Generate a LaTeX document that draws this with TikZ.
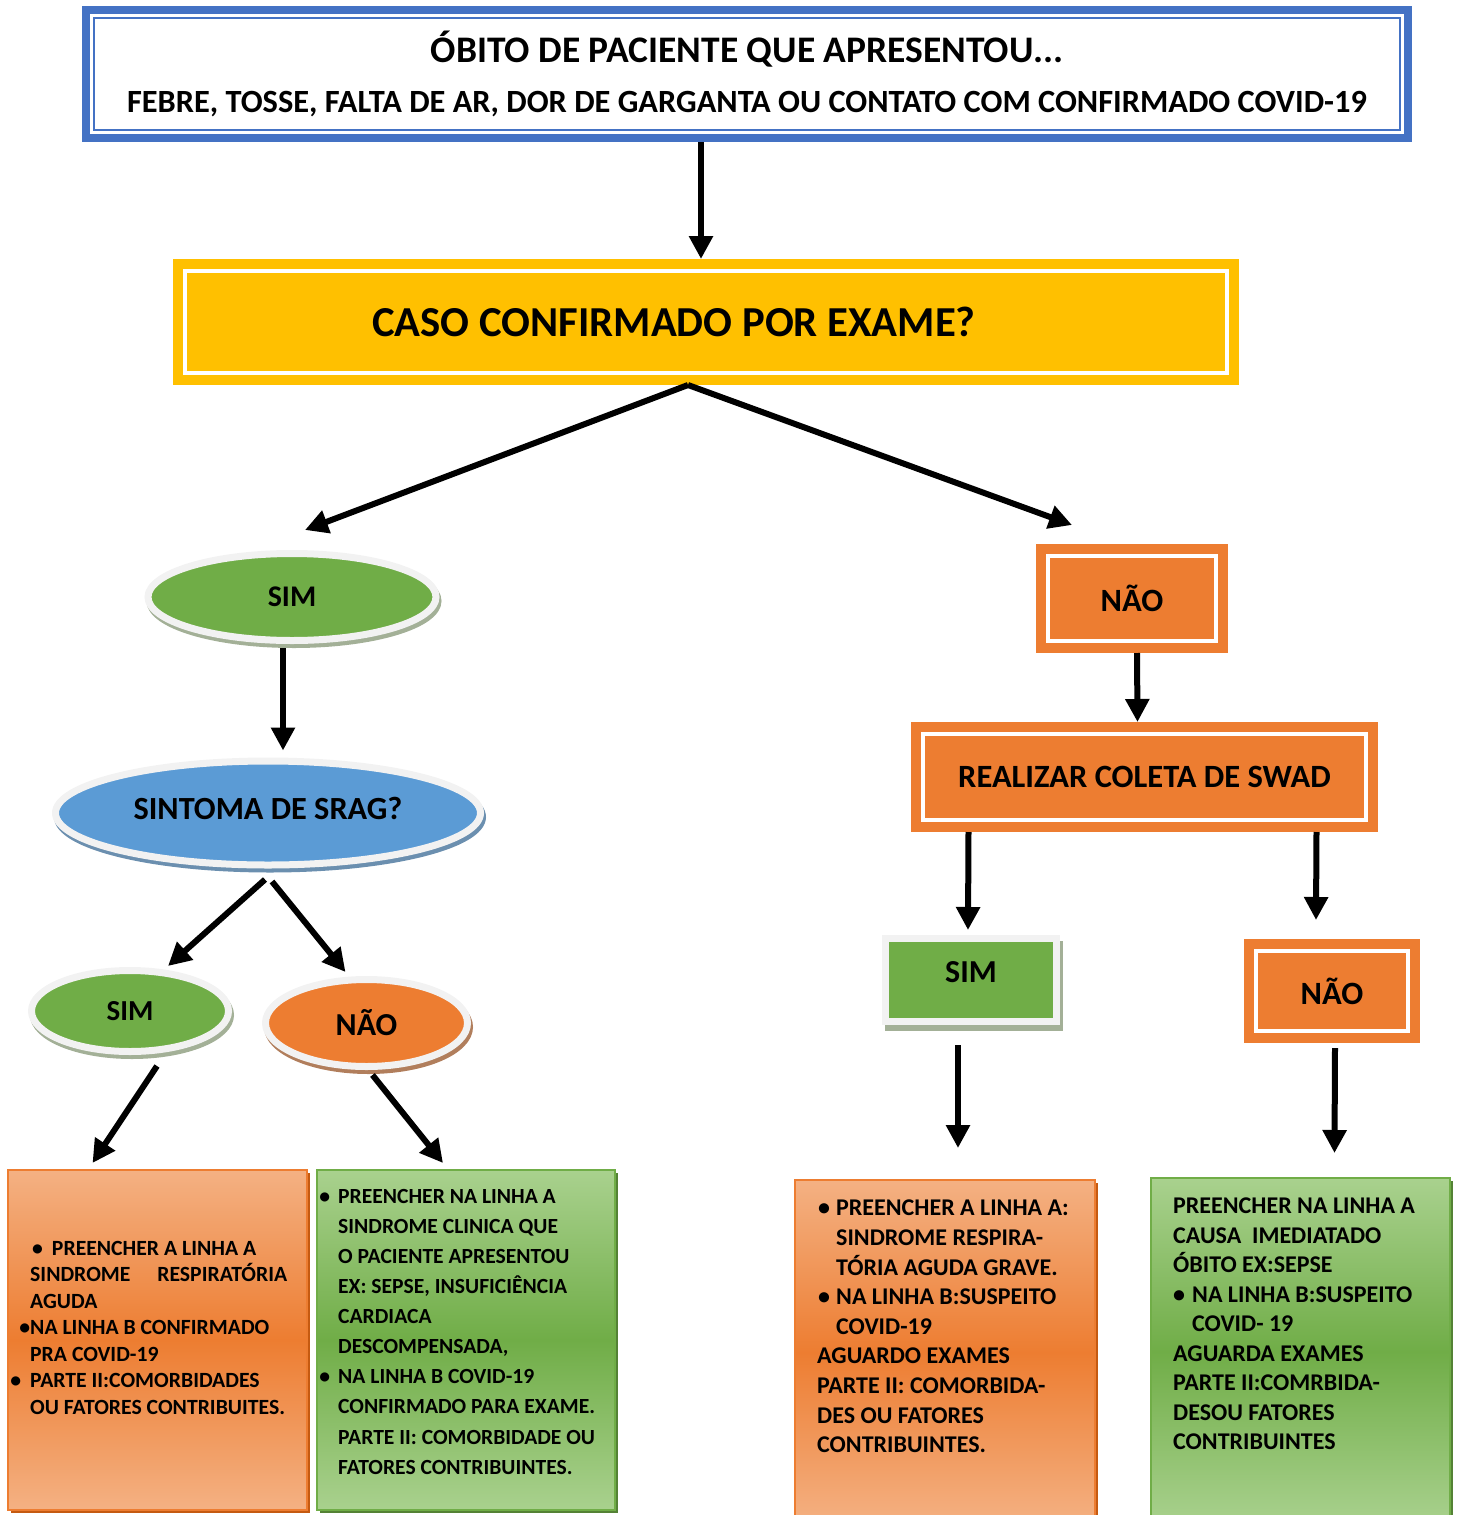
\documentclass[tikz,border=0pt]{standalone}
\usepackage{fontspec}
\setmainfont{Carlito}
\usetikzlibrary{arrows.meta,shapes.geometric,shadows}

\definecolor{azulT}{HTML}{4472C4}
\definecolor{amarelo}{HTML}{FFC000}
\definecolor{verde}{HTML}{70AD47}
\definecolor{verdeC}{HTML}{A9D18E}
\definecolor{verdeE}{HTML}{548235}
\definecolor{laranja}{HTML}{ED7D31}
\definecolor{laranjaC}{HTML}{F4B183}
\definecolor{laranjaE}{HTML}{C55A11}
\definecolor{azulE}{HTML}{5B9BD5}
\definecolor{borda}{HTML}{F2F2F2}
\definecolor{sombra}{HTML}{A3B097}

\tikzset{
  seta/.style={line width=6pt,-{Triangle[width=23pt,length=23pt]}},
  caixa/.style={rectangle,fill=#1,draw=white,line width=4pt,inner sep=0pt,outer sep=12pt,
    preaction={draw=#1,line width=24pt},font=\bfseries\fontsize{32.5}{38}\selectfont},
  oval/.style 2 args={ellipse,fill=#1,draw=borda,line width=7pt,inner sep=0pt,
    preaction={draw=#2,fill=#2,line width=7pt,transform canvas={xshift=2pt,yshift=-4pt}},
    font=\bfseries\fontsize{30}{36}\selectfont},
  nota/.style n args={3}{rectangle,draw=#1,line width=2pt,top color=#2,bottom color=#2,middle color=#1,
    drop shadow={shadow xshift=3pt,shadow yshift=-3pt,fill=#3,opacity=1}},
  texto/.style={anchor=north west,inner sep=0pt,align=left}
}

\begin{document}
\begin{tikzpicture}[x=1pt,y=-1pt]
    \useasboundingbox (0,0) rectangle (1459,1515);
    %% titulo
    \node[rectangle,fill=white,draw=azulT,line width=2pt,inner sep=0pt,outer sep=12pt,
      minimum width=1306pt,minimum height=112pt,
      preaction={draw=azulT,line width=24pt},preaction={draw=white,line width=8pt},
      align=center,font=\bfseries\fontsize{32.4}{50}\selectfont] (titulo) at (747,74)
      {{\fontsize{37.5}{50}\selectfont ÓBITO DE PACIENTE QUE APRESENTOU...}\\
       FEBRE, TOSSE, FALTA DE AR, DOR DE GARGANTA OU CONTATO COM CONFIRMADO COVID-19};
    \node[caixa=amarelo,minimum width=1042pt,minimum height=102pt,
      font=\bfseries\fontsize{42.7}{50}\selectfont] (caso) at (706,322)
      {CASO CONFIRMADO POR EXAME?\hspace*{64pt}};
    %% lado esquerdo
    \node[oval={verde}{sombra},minimum width=288pt,minimum height=87pt] (sim1) at (292,597) {SIM};
    \node[oval={azulE}{azulE!55!gray},minimum width=425pt,minimum height=104pt,text depth=10pt,
      font=\bfseries\fontsize{32.3}{38}\selectfont] (srag) at (268,813) {SINTOMA DE SRAG?};
    \node[oval={verde}{sombra},minimum width=197pt,minimum height=81pt,
      font=\bfseries\fontsize{29}{34}\selectfont] (sim2) at (130,1011) {SIM};
    \node[oval={laranja}{laranja!45!gray},minimum width=202pt,minimum height=87pt,
      font=\bfseries\fontsize{32}{38}\selectfont] (nao0) at (366.5,1023) {NÃO};
    %% lado direito
    \node[caixa=laranja,minimum width=168pt,minimum height=85pt] (nao1) at (1132,598.5) {NÃO};
    \node[caixa=laranja,minimum width=443pt,minimum height=86pt] (coleta) at (1144.5,777) {REALIZAR COLETA DE SWAD};
    \node[rectangle,fill=verde,draw=borda,line width=7pt,inner sep=0pt,text depth=16pt,
      minimum width=171pt,minimum height=83pt,font=\bfseries\fontsize{32}{38}\selectfont,
      preaction={fill=sombra,draw=sombra,line width=7pt,transform canvas={xshift=3pt,yshift=-6pt}}]
      (sim3) at (971,980) {SIM};
    \node[caixa=laranja,minimum width=152pt,minimum height=80pt] (nao2) at (1332,991) {NÃO};
    %% notas
    \node[nota={laranja}{laranjaC}{laranjaE},minimum width=299pt,minimum height=340pt] (nota1) at (157.5,1340) {};
    \node[nota={verde}{verdeC}{verdeE},minimum width=298pt,minimum height=340pt] (nota2) at (466,1340) {};
    \node[nota={laranja}{laranjaC}{laranjaE},minimum width=300pt,minimum height=345pt] (nota3) at (945,1352.5) {};
    \node[nota={verde}{verdeC}{verdeE},minimum width=299pt,minimum height=347pt] (nota4) at (1300.5,1351.5) {};
    \node[texto,font=\bfseries\fontsize{21.7}{26.5}\selectfont] (txt1) at (30,1235)
      {\rule{0pt}{20pt}\hspace*{2pt}•\hspace*{9pt}PREENCHER A LINHA A\\
       \makebox[257pt]{SINDROME\hfill RESPIRATÓRIA}\\
       AGUDA\\
       \llap{•}NA LINHA B CONFIRMADO\\
       PRA COVID-19\\
       \llap{•\hspace*{9pt}}PARTE II:COMORBIDADES\\
       OU FATORES CONTRIBUITES.};
    \node[texto,font=\bfseries\fontsize{21.6}{30.1}\selectfont] (txt2) at (338,1183)
      {\rule{0pt}{20pt}\llap{•\hspace*{8pt}}PREENCHER NA LINHA A\\
       SINDROME CLINICA QUE\\
       O PACIENTE APRESENTOU\\
       EX: SEPSE, INSUFICIÊNCIA\\
       CARDIACA\\
       DESCOMPENSADA,\\
       \llap{•\hspace*{8pt}}NA LINHA B COVID-19\\
       CONFIRMADO PARA EXAME.\\
       PARTE II: COMORBIDADE OU\\
       FATORES CONTRIBUINTES.};
    \node[texto,font=\bfseries\fontsize{24}{29.6}\selectfont] (txt3) at (817,1195.7)
      {\rule{0pt}{20pt}\makebox[19pt][l]{\hspace*{1pt}•}PREENCHER A LINHA A:\\
       \hspace*{19pt}SINDROME RESPIRA-\\
       \hspace*{19pt}TÓRIA AGUDA GRAVE.\\
       \makebox[19pt][l]{\hspace*{1pt}•}NA LINHA B:SUSPEITO\\
       \hspace*{19pt}COVID-19\\
       AGUARDO EXAMES\\
       PARTE II: COMORBIDA-\\
       DES OU FATORES\\
       CONTRIBUINTES.};
    \node[texto,font=\bfseries\fontsize{24}{29.5}\selectfont] (txt4) at (1173,1193.7)
      {\rule{0pt}{20pt}PREENCHER NA LINHA A\\
       CAUSA\ \ IMEDIATADO\\
       ÓBITO EX:SEPSE\\
       \makebox[19pt][l]{•}NA LINHA B:SUSPEITO\\
       \hspace*{19pt}COVID- 19\\
       AGUARDA EXAMES\\
       PARTE II:COMRBIDA-\\
       DESOU FATORES\\
       CONTRIBUINTES};
    %% setas
    \draw[seta] ([xshift=-46pt]titulo.south) -- ([xshift=-5pt]caso.north);
    \draw[seta] ([xshift=-18pt]caso.south) -- ([xshift=13pt,yshift=20pt]sim1.north);
    \draw[seta] ([xshift=-18pt]caso.south) -- ([xshift=-60pt,yshift=19pt]nao1.north);
    \draw[seta] ([xshift=-9pt,yshift=-4pt]sim1.south) -- ([xshift=15pt,yshift=7pt]srag.north);
    \draw[seta] ([xshift=-3pt,yshift=-11pt]srag.south) -- ([xshift=38pt,yshift=1pt]sim2.north);
    \draw[seta] ([xshift=4pt,yshift=-13pt]srag.south) -- ([xshift=-21pt,yshift=4pt]nao0.north);
    \draw[seta] ([xshift=27pt,yshift=-11pt]sim2.south) -- ([xshift=-65pt,yshift=6pt]nota1.north);
    \draw[seta] ([xshift=6pt,yshift=-5pt]nao0.south) -- ([xshift=-23pt,yshift=6pt]nota2.north);
    \draw[seta] ([xshift=5pt]nao1.south) -- ([xshift=-7pt]coleta.north);
    \draw[seta] ([xshift=-176pt]coleta.south) -- ([xshift=-3pt,yshift=5pt]sim3.north);
    \draw[seta] ([xshift=172pt]coleta.south) -- ([xshift=-16pt,yshift=19pt]nao2.north);
    \draw[seta] ([xshift=-13pt,yshift=-20pt]sim3.south) -- ([xshift=13pt,yshift=31pt]nota3.north);
    \draw[seta] ([xshift=3pt,yshift=-5pt]nao2.south) -- ([xshift=34pt,yshift=24pt]nota4.north);
\end{tikzpicture}
\end{document}
